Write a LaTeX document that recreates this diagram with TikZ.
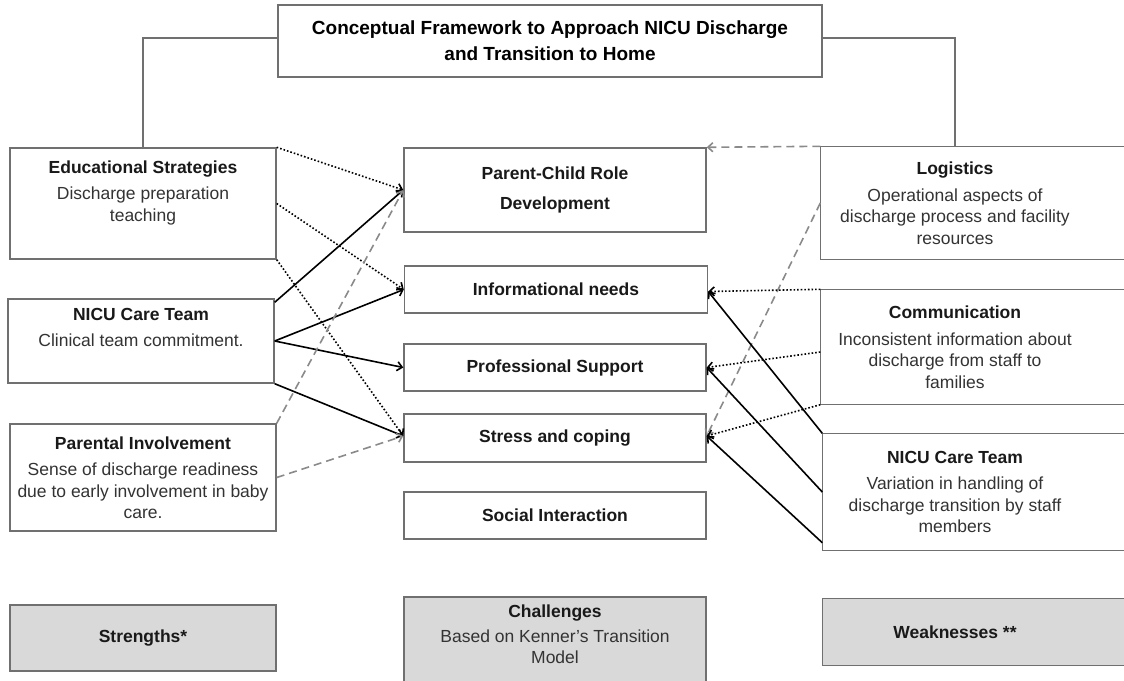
\documentclass[tikz,border=0pt]{standalone}
\usepackage{fontspec}
\setmainfont{Liberation Sans}
\usepackage{tikz}
\usetikzlibrary{arrows.meta}
\usetikzlibrary{backgrounds}

\definecolor{boxline}{HTML}{707070}
\definecolor{shade}{HTML}{D9D9D9}
\definecolor{dashgray}{HTML}{8A8A8A}
\definecolor{bodytext}{HTML}{333333}

\tikzset{
  box/.style={draw=boxline, line width=1.4pt, fill=white, align=center, inner sep=0pt,
    text=bodytext, font=\fontsize{17.5}{21.5}\selectfont},
  sidebox/.style={box, draw=none, fill=none},
  conn/.style={draw=boxline, line width=1.4pt},
  tip/.style={-{Straight Barb[length=5pt,width=9pt]}},
  strong/.style={tip, line width=1.6pt, black},
  weakarrow/.style={tip, line width=1.6pt, dashgray, dash pattern=on 8pt off 5pt},
  hint/.style={tip, line width=1.6pt, black, dash pattern=on 1.6pt off 2pt},
}
\newcommand{\hd}[1]{\textbf{\color{black!90}#1}}

\begin{document}
\begin{tikzpicture}[x=1pt, y=-1pt]
\useasboundingbox (0,0) rectangle (1124,680);

% title
\node[box, minimum width=544pt, minimum height=72pt, font=\fontsize{19}{26}\selectfont\bfseries, text=black]
  (title) at (550,41) {Conceptual Framework to Approach NICU Discharge\\ and Transition to Home};

% strengths
\node[box, minimum width=266pt, minimum height=111pt] (edu) at (143,203.5)
  {\hd{Educational Strategies}\\[5pt] Discharge preparation\\ teaching\\[4pt]\mbox{}};
\node[box, minimum width=266pt, minimum height=84pt] (nicuL) at (141,341)
  {\hd{NICU Care Team}\\[5pt] Clinical team commitment.\\[6pt]\mbox{}};
\node[box, minimum width=266pt, minimum height=107pt] (parent) at (143,477.5)
  {\hd{Parental Involvement}\\[5pt] Sense of discharge readiness\\ due to early involvement in baby\\ care.};
\node[box, fill=shade, minimum width=266pt, minimum height=66pt] (strength) at (143,638)
  {\hd{Strengths*}};

% challenges
\node[box, minimum width=302pt, minimum height=84pt] (role) at (555,190)
  {\hd{Parent-Child Role}\\[8pt] \hd{Development}};
\node[box, minimum width=303pt, minimum height=47pt] (info) at (556,289.5) {\hd{Informational needs}};
\node[box, minimum width=302pt, minimum height=47pt] (prof) at (555,367.5) {\hd{Professional Support}};
\node[box, minimum width=302pt, minimum height=48pt] (stress) at (555,438) {\hd{Stress and coping}};
\node[box, minimum width=302pt, minimum height=47pt] (social) at (555,515.5) {\hd{Social Interaction}};
\node[box, fill=shade, minimum width=302pt, minimum height=92pt] (chall) at (555,643)
  {\hd{Challenges}\\[3pt] Based on Kenner's Transition\\ Model\\[-4pt]\mbox{}};

% weaknesses
\node[sidebox, minimum width=268pt, minimum height=112pt] (logi) at (955,203)
  {\hd{Logistics}\\[5pt] Operational aspects of\\ discharge process and facility\\ resources};
\node[sidebox, minimum width=268pt, minimum height=114pt] (comm) at (955,347)
  {\hd{Communication}\\[5pt] Inconsistent information about\\ discharge from staff to\\ families};
\node[sidebox, minimum width=264pt, minimum height=116pt] (nicuR) at (955,492)
  {\hd{NICU Care Team}\\[5pt] Variation in handling of\\ discharge transition by staff\\ members};
\node[sidebox, minimum width=264pt, minimum height=66pt] (weak) at (955,632)
  {\hd{Weaknesses **}};

\begin{scope}[on background layer]
  \foreach \n in {logi,comm,nicuR}
    \draw[conn, fill=white] (\n.north west) rectangle ([xshift=80pt]\n.south east);
  \draw[conn, fill=shade] (weak.north west) rectangle ([xshift=80pt]weak.south east);
\end{scope}

% frame lines
\draw[conn] ([yshift=3pt]title.west) -| (edu.north);
\draw[conn] ([yshift=3pt]title.east) -| (logi.north);

% left side
\draw[hint] (edu.north east) -- (role.west);
\draw[hint] (edu.east) -- (info.west);
\draw[hint] (edu.south east) -- ([yshift=2pt]stress.west);
\draw[strong] ([yshift=-4pt]nicuL.north east) -- (role.west);
\draw[strong] (nicuL.east) -- (info.west);
\draw[strong] (nicuL.east) -- (prof.west);
\draw[strong] (nicuL.south east) -- ([yshift=2pt]stress.west);
\draw[weakarrow] (parent.north east) -- (role.west);
\draw[weakarrow] (parent.east) -- ([yshift=2pt]stress.west);

% right side
\draw[weakarrow] (logi.north west) -- (role.north east);
\draw[weakarrow] (logi.west) -- ([yshift=2pt]stress.east);
\draw[hint] (comm.north west) -- ([yshift=-2pt]info.east);
\draw[hint] ([yshift=-5pt]comm.west) -- (prof.east);
\draw[hint] (comm.south west) -- ([yshift=2pt]stress.east);
\draw[strong] (nicuR.north west) -- ([yshift=-2pt]info.east);
\draw[strong] (nicuR.west) -- (prof.east);
\draw[strong] ([yshift=8pt]nicuR.south west) -- ([yshift=2pt]stress.east);
\end{tikzpicture}
\end{document}
